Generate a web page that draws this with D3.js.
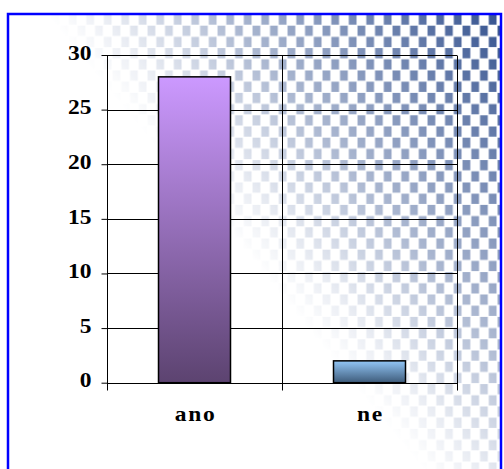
<!DOCTYPE html>
<html><head><meta charset="utf-8">
<script src="https://cdn.jsdelivr.net/npm/d3@7"></script>
<style>html,body{margin:0;padding:0;background:#fff;}svg{display:block;}</style>
</head><body>
<svg id="c" width="504" height="469"></svg>
<script>
const categories = ["ano", "ne"];
const values = [28, 2];
const yTicks = [0, 5, 10, 15, 20, 25, 30];
const barTopColors = ["#CC99FF", "#92C6F6"];
const barBottomColors = ["#5C4370", "#3E5B7A"];

const svg = d3.select("#c");
const W = 504, H = 469;
const defs = svg.append("defs");
const FONT = "'Liberation Serif', 'Times New Roman', serif";

// checker pattern
const pw = 17.5, ph = 22.4;
const pat = defs.append("pattern").attr("id","chk").attr("patternUnits","userSpaceOnUse")
  .attr("width",pw).attr("height",ph).attr("x",418.3).attr("y",14);
pat.append("rect").attr("x",0.5).attr("y",0.5).attr("width",pw/2-1).attr("height",ph/2-1).attr("fill","#34528F");
pat.append("rect").attr("x",pw/2+0.5).attr("y",ph/2+0.5).attr("width",pw/2-1).attr("height",ph/2-1).attr("fill","#34528F");

const mg = defs.append("linearGradient").attr("id","mg").attr("gradientUnits","userSpaceOnUse")
  .attr("x1",225).attr("y1",230).attr("x2",495).attr("y2",6);
mg.append("stop").attr("offset",0).attr("stop-color","#fff").attr("stop-opacity",0);
mg.append("stop").attr("offset",0.12).attr("stop-color","#fff").attr("stop-opacity",0.1);
mg.append("stop").attr("offset",0.4).attr("stop-color","#fff").attr("stop-opacity",0.42);
mg.append("stop").attr("offset",0.75).attr("stop-color","#fff").attr("stop-opacity",0.75);
mg.append("stop").attr("offset",1).attr("stop-color","#fff").attr("stop-opacity",1);
const mask = defs.append("mask").attr("id","mk").attr("maskUnits","userSpaceOnUse")
  .attr("x",0).attr("y",0).attr("width",W).attr("height",H);
mask.append("rect").attr("width",W).attr("height",H).attr("fill","url(#mg)");

svg.append("rect").attr("x",8).attr("y",14).attr("width",493).attr("height",460)
  .attr("fill","url(#chk)").attr("mask","url(#mk)");
svg.append("rect").attr("x",8).attr("y",14).attr("width",493).attr("height",470)
  .attr("fill","none").attr("stroke","#0000FF").attr("stroke-width",2.5);

// bar gradients
categories.forEach((c,i)=>{
  const g = defs.append("linearGradient").attr("id","bg"+i).attr("x1",0).attr("y1",0).attr("x2",0).attr("y2",1);
  g.append("stop").attr("offset",0).attr("stop-color",barTopColors[i]);
  g.append("stop").attr("offset",1).attr("stop-color",barBottomColors[i]);
});

const x0 = 107, x1 = 457, yTop = 55, yBot = 382.7;
const x = d3.scaleBand().domain(categories).range([x0, x1]).paddingInner(0).paddingOuter(0);
const y = d3.scaleLinear().domain([0, 30]).range([yBot, yTop]);
const barW = 72;

const g = svg.append("g");
g.selectAll("line.h").data(yTicks.filter(t=>t>0)).join("line")
  .attr("x1",x0).attr("x2",x1).attr("y1",d=>Math.round(y(d))+0.5).attr("y2",d=>Math.round(y(d))+0.5)
  .attr("stroke","#000").attr("stroke-width",1);
const bounds = categories.map(c=>x(c)).concat([x1]);
g.selectAll("line.v").data(bounds.slice(1)).join("line")
  .attr("x1",d=>Math.round(d)+0.5).attr("x2",d=>Math.round(d)+0.5)
  .attr("y1",Math.round(yTop)+0.5).attr("y2",Math.round(yBot))
  .attr("stroke","#000").attr("stroke-width",1);

g.selectAll("rect.bar").data(values).join("rect")
  .attr("x",(d,i)=>x(categories[i]) + x.bandwidth()/2 - barW/2)
  .attr("y",d=>y(d)).attr("width",barW).attr("height",d=>yBot - y(d))
  .attr("fill",(d,i)=>"url(#bg"+i+")").attr("stroke","#000").attr("stroke-width",1.5);

// y axis
const ya = d3.axisLeft(y).tickValues(yTicks).tickSize(6).tickPadding(10).tickFormat(d3.format("d"));
const yg = svg.append("g").attr("transform",`translate(${x0+0.5},0)`).call(ya);
yg.select(".domain").remove();
yg.append("line").attr("x1",0).attr("x2",0).attr("y1",yTop).attr("y2",yBot+7).attr("stroke","#000");
yg.selectAll(".tick line").attr("stroke","#000");
yg.selectAll("text").attr("x",0).attr("dy","0.32em")
  .attr("transform","translate(-16,-2.5) scale(1.12,1)")
  .attr("font-family",FONT).attr("font-weight","bold").attr("font-size",21).attr("fill","#000");

// x axis
const xg = svg.append("g").attr("transform",`translate(0,${Math.round(yBot)+0.5})`);
xg.append("line").attr("x1",x0).attr("x2",x1+1).attr("y1",0).attr("y2",0).attr("stroke","#000");
xg.selectAll("line.t").data(bounds).join("line")
  .attr("x1",d=>Math.round(d)+0.5).attr("x2",d=>Math.round(d)+0.5).attr("y1",0).attr("y2",7).attr("stroke","#000");
xg.selectAll("text").data(categories).join("text")
  .attr("transform",d=>`translate(${x(d)+x.bandwidth()/2+1},37) scale(1.12,1)`)
  .attr("text-anchor","middle")
  .attr("font-family",FONT).attr("font-weight","bold")
  .attr("font-size",21).attr("letter-spacing",1.5).attr("fill","#000").text(d=>d);
</script>
</body></html>
